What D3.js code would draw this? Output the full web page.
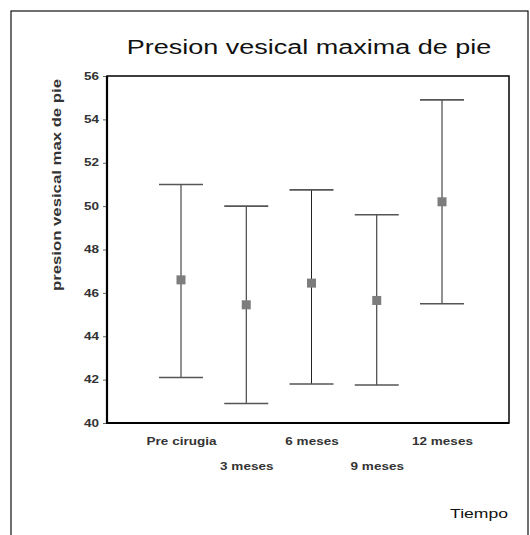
<!DOCTYPE html>
<html>
<head>
<meta charset="utf-8">
<script src="https://cdn.jsdelivr.net/npm/d3@7"></script>
<style>
  body { margin: 0; background: #fff; }
  svg { display: block; font-family: Arial, "Liberation Sans", sans-serif; }
</style>
</head>
<body>
<div id="chart"></div>
<script>
// data
const categories = ['Pre cirugia', '3 meses', '6 meses', '9 meses', '12 meses'];
const means = [46.6, 45.45, 46.45, 45.65, 50.2];
const upper = [51.0, 50.0, 50.75, 49.6, 54.9];
const lower = [42.1, 40.9, 41.8, 41.75, 45.5];
const yTicks = [40, 42, 44, 46, 48, 50, 52, 54, 56];

const W = 530, H = 535;
const margin = {top: 76, right: 21, bottom: 112, left: 107};
const stretch = 1.35;   // the original picture is wider than it is tall

const svg = d3.select('#chart').append('svg')
    .attr('width', W)
    .attr('height', H);

// outer frame
svg.append('rect')
    .attr('x', 11).attr('y', 11)
    .attr('width', 517).attr('height', 540)
    .attr('fill', 'none')
    .attr('stroke', '#111')
    .attr('stroke-width', 1.2);

const x0 = margin.left, x1 = W - margin.right;
const y0 = H - margin.bottom, y1 = margin.top;

const x = d3.scalePoint()
    .domain(categories)
    .range([x0 + 74, x1 - 67]);

const y = d3.scaleLinear()
    .domain([40, 56])
    .range([y0, y1]);

function widen(sel) {
    sel.each(function () {
        const len = this.getComputedTextLength();
        d3.select(this).attr('textLength', len * stretch).attr('lengthAdjust', 'spacingAndGlyphs');
    });
}

// title
svg.append('text')
    .attr('x', 309).attr('y', 54)
    .attr('text-anchor', 'middle')
    .attr('font-size', 20)
    .attr('fill', '#111')
    .text('Presion vesical maxima de pie')
    .call(widen);

// y axis
const yAxis = svg.append('g')
    .attr('transform', `translate(${x0},0)`)
    .call(d3.axisLeft(y).tickValues(yTicks).tickSize(4).tickPadding(4));
yAxis.select('.domain').remove();
yAxis.selectAll('line').attr('stroke', '#666');
yAxis.selectAll('text')
    .attr('font-size', 10)
    .attr('font-weight', 'bold')
    .attr('fill', '#333')
    .call(widen);

// x axis labels, staggered in two rows
const xAxis = svg.append('g')
    .attr('transform', `translate(0,${y0})`)
    .call(d3.axisBottom(x).tickSize(0).tickPadding(18));
xAxis.select('.domain').remove();
xAxis.selectAll('text')
    .attr('font-size', 10)
    .attr('font-weight', 'bold')
    .attr('fill', '#333')
    .attr('dy', (d, i) => i % 2 ? '2.9em' : '0.4em')
    .call(widen);

// plot frame
svg.append('rect')
    .attr('x', x0).attr('y', y1)
    .attr('width', x1 - x0).attr('height', y0 - y1)
    .attr('fill', 'none')
    .attr('stroke', '#000')
    .attr('stroke-width', 1.5);
svg.append('line')
    .attr('x1', x0).attr('x2', x0)
    .attr('y1', y1).attr('y2', y0 + 1)
    .attr('stroke', '#000').attr('stroke-width', 2.2);
svg.append('line')
    .attr('x1', x0).attr('x2', x1)
    .attr('y1', y0).attr('y2', y0)
    .attr('stroke', '#000').attr('stroke-width', 2.2);

// axis titles
svg.append('text')
    .attr('transform', `translate(61,${y1 + 3}) rotate(-90)`)
    .attr('text-anchor', 'end')
    .attr('font-size', 12)
    .attr('font-weight', 'bold')
    .attr('fill', '#333')
    .attr('textLength', 212)
    .attr('lengthAdjust', 'spacingAndGlyphs')
    .text('presion vesical max de pie');

svg.append('text')
    .attr('x', 508).attr('y', 518)
    .attr('text-anchor', 'end')
    .attr('font-size', 13)
    .attr('fill', '#111')
    .text('Tiempo')
    .call(widen);

// error bars
const rows = categories.map((c, i) => ({c, mean: means[i], hi: upper[i], lo: lower[i]}));
const capHalf = 22;

const bars = svg.append('g').selectAll('g')
    .data(rows)
    .join('g');

bars.append('line')
    .attr('x1', d => x(d.c)).attr('x2', d => x(d.c))
    .attr('y1', d => y(d.hi)).attr('y2', d => y(d.lo))
    .attr('stroke', '#222')
    .attr('stroke-width', 1);

bars.selectAll('.cap')
    .data(d => [d.hi, d.lo].map(v => ({c: d.c, v})))
    .join('line')
    .attr('class', 'cap')
    .attr('x1', d => x(d.c) - capHalf).attr('x2', d => x(d.c) + capHalf)
    .attr('y1', d => y(d.v)).attr('y2', d => y(d.v))
    .attr('stroke', '#555')
    .attr('stroke-width', 1.6);

bars.append('rect')
    .attr('x', d => x(d.c) - 4.5)
    .attr('y', d => y(d.mean) - 4.5)
    .attr('width', 9).attr('height', 9)
    .attr('fill', '#7d7d7d');
</script>
</body>
</html>
